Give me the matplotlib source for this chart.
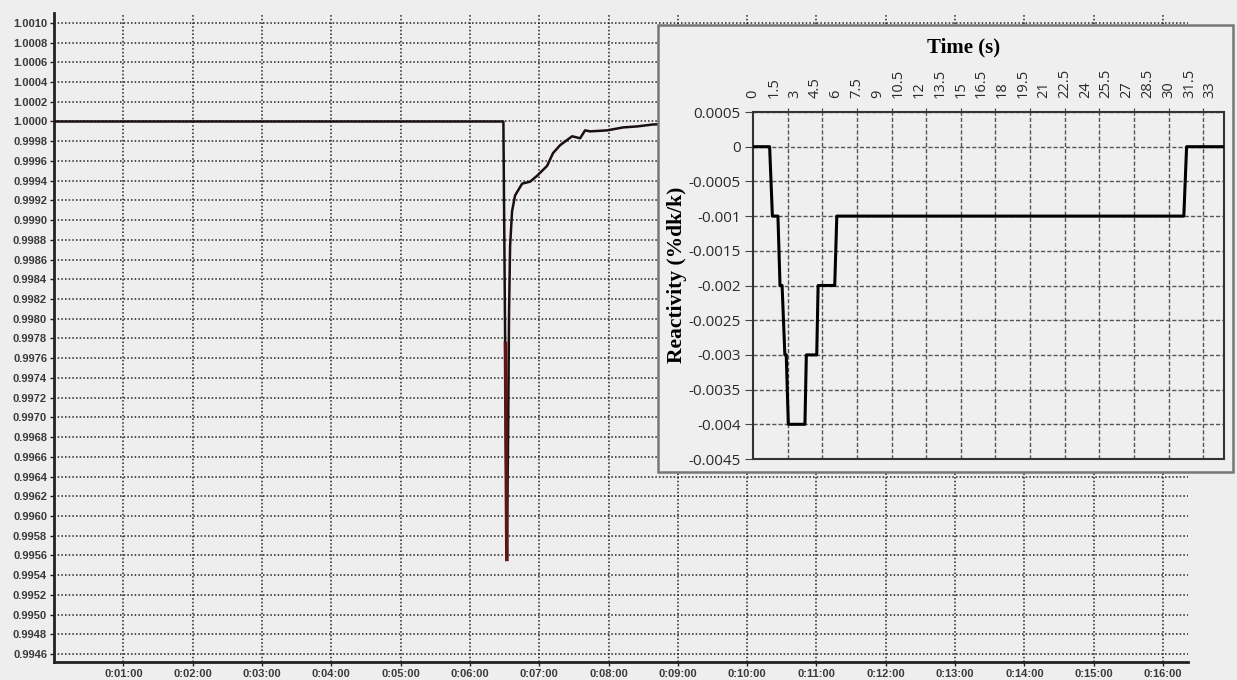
import numpy as np
import matplotlib
matplotlib.use('Agg')
import matplotlib.pyplot as plt
from matplotlib.patches import Rectangle

# main trace: time [s] vs relative power
t_main = [0, 389, 392, 393.1, 393.9, 394.8, 396.5, 399.1, 405.2, 412.1, 418.2, 426.8,
          432.0, 438.1, 448.5, 455.4, 459.7, 464.1, 478.8, 492.6, 504.8, 518.6, 560, 700, 980]
p_main = [1.0, 1.0, 0.99558, 0.99686, 0.99807, 0.99874, 0.99909, 0.99925, 0.99937, 0.99939,
          0.99945, 0.99955, 0.99968, 0.99976, 0.99985, 0.99983, 0.99991, 0.99990, 0.99991,
          0.99994, 0.99995, 0.99997, 0.99998, 0.99999, 1.0]
# second (red) trace, only visible on the drop
t_red = [390.8, 392]
p_red = [0.99775, 0.99556]

main_yticks = np.round(np.arange(0.9946, 1.00101, 0.0002), 4)
main_xticks = np.arange(60, 961, 60)
main_xlabels = ['0:%02d:00' % (s // 60) for s in main_xticks]

# inset: reactivity step sequence
t_rho = [0, 1.2, 1.4, 1.8, 1.95, 2.1, 2.3, 2.4, 2.55, 3.75, 3.85, 4.6, 4.7, 5.9, 6.05,
         31.1, 31.3, 34]
rho = [0, 0, -0.001, -0.001, -0.002, -0.002, -0.003, -0.003, -0.004, -0.004, -0.003,
       -0.003, -0.002, -0.002, -0.001, -0.001, 0, 0]
rho_ticks = [0.0005, 0, -0.0005, -0.001, -0.0015, -0.002, -0.0025, -0.003, -0.0035,
             -0.004, -0.0045]
rho_labels = ['0.0005', '0', '-0.0005', '-0.001', '-0.0015', '-0.002', '-0.0025',
              '-0.003', '-0.0035', '-0.004', '-0.0045']
time_labels = np.arange(0, 33.1, 1.5)
time_grid = np.arange(2.5, 33, 2.5)

W, H = 1237, 680
bg = '#eeeeee'

fig = plt.figure(figsize=(W/100, H/100), dpi=100, facecolor=bg)

def box(x0, y0, x1, y1):
    # pixel box (top-left origin) -> figure fractions
    return [x0/W, 1 - y1/H, (x1 - x0)/W, (y1 - y0)/H]

ax = fig.add_axes(box(54, 13, 1188, 662))
ax.set_facecolor(bg)
ax.plot(t_main, p_main, color='#1a1010', lw=1.8, zorder=3)
ax.plot(t_red, p_red, color='#5e1515', lw=2.6, zorder=4)
ax.set_xlim(0, 981.6)
ax.set_ylim(0.99452, 1.00110)
ax.set_yticks(main_yticks)
ax.set_yticklabels(['%.4f' % v for v in main_yticks])
ax.set_xticks(main_xticks)
ax.set_xticklabels(main_xlabels)
ax.grid(True, color='#222222', linestyle=(0, (1, 1.4)), lw=1.1)
for s in ['top', 'right']:
    ax.spines[s].set_visible(False)
for s in ['left', 'bottom']:
    ax.spines[s].set_linewidth(2)
    ax.spines[s].set_color('#222222')
ax.tick_params(length=3, width=1, pad=2, colors='#222222', labelcolor='#3a3a3a')
for lab in ax.get_xticklabels() + ax.get_yticklabels():
    lab.set_fontfamily('Liberation Sans')
    lab.set_fontweight('bold')
    lab.set_fontsize(8)

# inset frame
fig.patches.append(Rectangle((658/W, 1 - 472/H), (1233 - 658)/W, (472 - 25)/H,
                             transform=fig.transFigure, fc='#efefef', ec='#777777',
                             lw=1.8, zorder=5))

ins = fig.add_axes(box(753, 112, 1224, 459), zorder=6)
ins.set_facecolor('#efefef')
ins.plot(t_rho, rho, color='black', lw=2.2, zorder=3)
ins.set_xlim(0, 34)
ins.set_ylim(-0.0045, 0.0005)
ins.set_yticks(rho_ticks)
ins.set_yticklabels(rho_labels, fontsize=11, family='Open Sans', color='#2a2a2a')
ins.xaxis.tick_top()
ins.xaxis.remove_overlapping_locs = False
ins.set_xticks(time_grid)
ins.set_xticklabels([])
ins.set_xticks(time_labels, minor=True)
ins.set_xticklabels(['%g' % v for v in time_labels], minor=True, rotation=90,
                    fontsize=10.5, family='Open Sans', color='#2a2a2a')
ins.tick_params(axis='x', which='minor', length=0, pad=10)
ins.tick_params(axis='x', which='major', length=3, color='#444444')
ins.tick_params(axis='y', length=6, color='#444444', pad=3)
ins.grid(True, which='major', color='#555555', linestyle=(0, (3, 1.5)), lw=1)
for s in ins.spines.values():
    s.set_linewidth(1.5)
    s.set_color('#333333')

fig.text(964/W, 1 - 47/H, 'Time (s)', ha='center', va='center',
         family='Liberation Serif', weight='bold', fontsize=15, zorder=7)
fig.text(677/W, 1 - 275/H, 'Reactivity (%dk/k)', ha='center', va='center',
         rotation=90, family='Liberation Serif', weight='bold', fontsize=15.5, zorder=7)

fig.savefig('out.png', dpi=100, facecolor=bg)
